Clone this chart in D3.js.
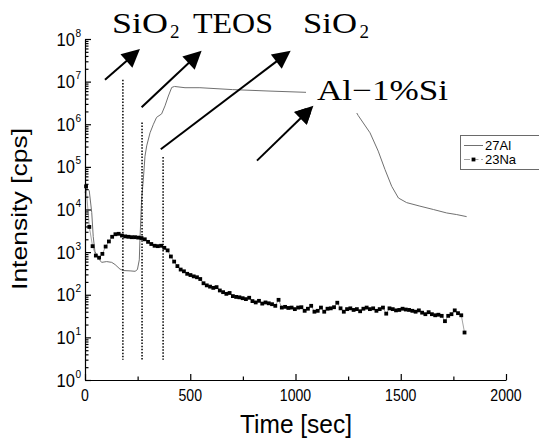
<!DOCTYPE html>
<html>
<head>
<meta charset="utf-8">
<script src="https://cdn.jsdelivr.net/npm/d3@7"></script>
<style>
  body { margin: 0; background: #fff; }
  svg { display: block; }
</style>
</head>
<body>
<svg id="chart" width="539" height="443"></svg>
<script>
// 27Al depth profile (sputter time in s, counts per second)
const alTime = [0, 8, 20, 32, 39, 47, 63, 79, 103, 127, 143, 166, 182, 214, 238, 249, 258, 261, 269,
  277, 285, 293, 309, 325, 340, 364, 380, 396, 412, 425, 475, 546, 700, 879, 1053, 1150, 1230, 1270,
  1298, 1354, 1393, 1425, 1457, 1489, 1528, 1591, 1655, 1718, 1766, 1813];
const alCounts = [25000, 32000, 28000, 8500, 2340, 1050, 720, 575, 600, 575, 510, 400, 370, 363, 355, 390, 660, 1950, 17400,
  50000, 178000, 310000, 630000, 1000000, 1450000, 1750000, 2700000, 4600000, 7300000, 7700000, 7200000, 7200000, 6500000, 6000000, 5600000, 5300000, 4200000, 2800000,
  1600000, 630000, 234000, 87000, 35000, 18600, 14500, 12000, 10000, 8300, 7600, 6800];

// 23Na depth profile, one reading per acquisition cycle
const naStart = 5;      // s, first cycle
const naStep = 15.5;    // s, cycle length
const naCounts = [
  35000, 3900, 1380, 830, 740, 910, 1350, 1780, 2290, 2630,
  2690, 2450, 2340, 2290, 2240, 2240, 2190, 2140, 2000, 1740,
  1550, 1410, 1380, 1410, 1260, 1100, 790, 600, 470, 390,
  355, 310, 290, 270, 257, 234, 186, 166, 155, 145,
  151, 126, 115, 105, 110, 93, 89, 87, 83, 79,
  85, 71, 66, 72, 62, 66, 63, 60, 55, 76,
  50, 52, 49, 50, 46, 50, 51, 42, 47, 55,
  40, 42, 50, 40, 47, 48, 51, 65, 48, 40,
  46, 48, 44, 46, 41, 47, 50, 46, 48, 42,
  46, 50, 36, 48, 46, 43, 44, 47, 45, 44,
  42, 40, 43, 38, 35, 39, 35, 33, 34, 32,
  24, 32, 35, 43, 37, 33, 13];

// axis ticks
const xMajor = [0, 500, 1000, 1500, 2000];
const xMinor = [250, 750, 1250, 1750];
const yExponents = [0, 1, 2, 3, 4, 5, 6, 7, 8];

// layer interfaces (s) and how high each marker line reaches (cps)
const interfaceTimes = [180, 271, 371];
const interfaceTops = [1.1e7, 1.1e6, 1.7e5];
const interfaceBottom = 3;

// pointer arrows [time, cps] -> [time, cps]
const layerArrows = [
  [[95, 1.1e7], [261, 5.8e7]],
  [[269, 2.5e6], [554, 5.3e7]],
  [[360, 2.6e5], [977, 5.3e7]],
  [[817, 1.4e5], [1085, 2.7e6]]
];

const seriesNames = ["27Al", "23Na"];

const svg = d3.select("#chart");
const x = d3.scaleLinear().domain([0, 2000]).range([85, 506]);
const y = d3.scaleLog().domain([1, 1e8]).range([380, 39]);

const sans = "'Liberation Sans', Arial, sans-serif";
const serif = "'Liberation Serif', 'Times New Roman', serif";

// Al trace
const alData = alTime.map((t, i) => [t, alCounts[i]]);
const line = d3.line().x(d => x(d[0])).y(d => y(d[1]));
svg.append("path").datum(alData).attr("d", line)
  .attr("fill", "none").attr("stroke", "#707070").attr("stroke-width", 1);

// Na trace with square markers
const naData = naCounts.map((c, i) => [naStart + i * naStep, c]);
svg.append("path").datum(naData).attr("d", line)
  .attr("fill", "none").attr("stroke", "#8a8a8a").attr("stroke-width", 0.8);
svg.append("g").selectAll("rect").data(naData).join("rect")
  .attr("x", d => x(d[0]) - 1.9).attr("y", d => y(d[1]) - 1.9)
  .attr("width", 3.8).attr("height", 3.8).attr("fill", "#000");

// interface markers
svg.append("g").selectAll("line").data(interfaceTimes).join("line")
  .attr("x1", d => x(d)).attr("x2", d => x(d))
  .attr("y1", (d, i) => y(interfaceTops[i])).attr("y2", y(interfaceBottom))
  .attr("stroke", "#000").attr("stroke-width", 1.5).attr("stroke-dasharray", "1.5,1.6");

// arrows
const headLen = 18, headHalf = 9;
function arrowHead(x1, y1, ux, uy) {
  const bx = x1 - ux * headLen, by = y1 - uy * headLen;
  svg.append("path")
    .attr("d", `M${x1},${y1}L${bx - uy * headHalf},${by + ux * headHalf}L${bx + uy * headHalf},${by - ux * headHalf}Z`)
    .attr("fill", "#000");
}
function arrowGeom([from, to]) {
  const x0 = x(from[0]), y0 = y(from[1]), x1 = x(to[0]), y1 = y(to[1]);
  const L = Math.hypot(x1 - x0, y1 - y0);
  return { x0, y0, x1, y1, ux: (x1 - x0) / L, uy: (y1 - y0) / L };
}
layerArrows.forEach(a => {
  const g = arrowGeom(a);
  svg.append("line").attr("x1", g.x0).attr("y1", g.y0)
    .attr("x2", g.x1 - g.ux * (headLen - 2)).attr("y2", g.y1 - g.uy * (headLen - 2))
    .attr("stroke", "#000").attr("stroke-width", 2);
  arrowHead(g.x1, g.y1, g.ux, g.uy);
});

// layer names
function layerLabel(text, x0, baseline, width, sub, subX) {
  svg.append("text").attr("x", x0).attr("y", baseline)
    .attr("font-family", serif).attr("font-size", 29).attr("fill", "#000")
    .attr("textLength", width).attr("lengthAdjust", "spacingAndGlyphs").text(text);
  if (sub) {
    svg.append("text").attr("x", subX).attr("y", baseline + 5)
      .attr("font-family", serif).attr("font-size", 19).attr("fill", "#000").text(sub);
  }
}
layerLabel("SiO", 112, 33, 56, "2", 170);
layerLabel("TEOS", 193, 33, 80);
layerLabel("SiO", 303, 33, 54, "2", 359.5);

svg.append("rect").attr("x", 306).attr("y", 70).attr("width", 150).attr("height", 43).attr("fill", "#fff");
layerLabel("Al\u22121%Si", 317, 100, 131);
{
  const g = arrowGeom(layerArrows[3]);
  arrowHead(g.x1, g.y1, g.ux, g.uy);
}

// axes
const axisStyle = g => {
  g.selectAll("path,line").attr("stroke", "#000").attr("stroke-width", 1.2);
};
svg.append("g").attr("transform", "translate(0,380)")
  .call(d3.axisBottom(x).tickValues(xMajor).tickSize(-6).tickSizeOuter(0).tickFormat(""))
  .call(axisStyle);
svg.append("g").attr("transform", "translate(0,380)")
  .call(d3.axisBottom(x).tickValues(xMinor).tickSize(-3.5).tickSizeOuter(0).tickFormat(""))
  .call(g => g.select(".domain").remove()).call(axisStyle);

const yMinor = [];
for (let e = 0; e < 8; e++) for (let k = 2; k <= 9; k++) yMinor.push(k * Math.pow(10, e));
svg.append("g").attr("transform", "translate(85,0)")
  .call(d3.axisLeft(y).tickValues(yExponents.map(e => Math.pow(10, e))).tickSize(-6).tickSizeOuter(0).tickFormat(""))
  .call(axisStyle);
svg.append("g").attr("transform", "translate(85,0)")
  .call(d3.axisLeft(y).tickValues(yMinor).tickSize(-3.5).tickSizeOuter(0).tickFormat(""))
  .call(g => g.select(".domain").remove()).call(axisStyle);

// tick labels
svg.append("g").selectAll("text").data(xMajor).join("text")
  .attr("transform", d => `translate(${x(d)},400.5) scale(0.88,1)`)
  .attr("text-anchor", "middle").attr("font-family", sans).attr("font-size", 16)
  .attr("fill", "#000").text(d => d);

const yl = svg.append("g").selectAll("g").data(yExponents).join("g")
  .attr("transform", e => `translate(75,${y(Math.pow(10, e)) + 6.5}) scale(0.92,1)`);
yl.append("text").attr("text-anchor", "end").attr("font-family", sans).attr("font-size", 18).text("10");
yl.append("text").attr("x", 0.5).attr("y", -9).attr("font-family", sans).attr("font-size", 11).text(e => e);

// axis titles
svg.append("text").attr("transform", "translate(27,209) scale(0.85,1) rotate(-90)")
  .attr("text-anchor", "middle").attr("font-family", sans).attr("font-size", 25)
  .attr("textLength", 162).attr("lengthAdjust", "spacingAndGlyphs").text("Intensity [cps]");
svg.append("text").attr("x", 240).attr("y", 433)
  .attr("font-family", sans).attr("font-size", 26)
  .attr("textLength", 112).attr("lengthAdjust", "spacingAndGlyphs").text("Time [sec]");

// legend
const lg = svg.append("g");
lg.append("rect").attr("x", 460.5).attr("y", 135.5).attr("width", 100).attr("height", 34)
  .attr("fill", "#fff").attr("stroke", "#6a6a6a").attr("stroke-width", 1);
lg.append("line").attr("x1", 464).attr("x2", 483).attr("y1", 145.5).attr("y2", 145.5)
  .attr("stroke", "#707070").attr("stroke-width", 1);
lg.append("line").attr("x1", 464).attr("x2", 483).attr("y1", 159.5).attr("y2", 159.5)
  .attr("stroke", "#8a8a8a").attr("stroke-width", 0.8).attr("stroke-dasharray", "6,2.5");
lg.append("rect").attr("x", 471.6).attr("y", 157.6).attr("width", 3.8).attr("height", 3.8).attr("fill", "#000");
lg.selectAll("text").data(seriesNames).join("text")
  .attr("x", 485).attr("y", (d, i) => 150 + i * 14)
  .attr("font-family", sans).attr("font-size", 13).attr("fill", "#000").text(d => d);
</script>
</body>
</html>
